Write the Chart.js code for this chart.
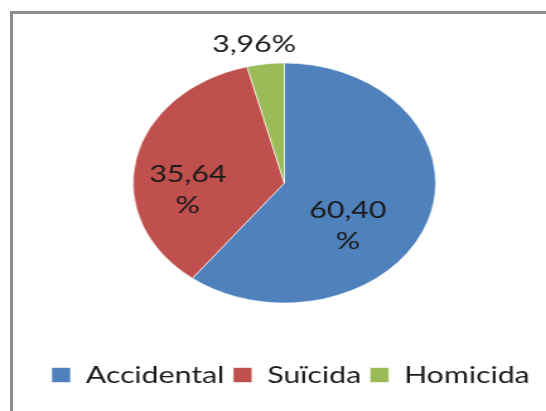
<!DOCTYPE html>
<html>
<head>
<meta charset="utf-8">
<script src="https://cdn.jsdelivr.net/npm/chart.js@4.4.1/dist/chart.umd.min.js"></script>
<style>
  html, body { margin: 0; padding: 0; background: #fff; overflow: hidden; }
  #frame {
    position: absolute; left: 10px; top: 11px; width: 600px; height: 460px;
    border-left: 3px solid #8c8c8c; border-top: 3px solid #8c8c8c;
  }
  #wrap {
    position: absolute; left: 0; top: 0; width: 433px; height: 411px;
    transform: scale(1.261, 1); transform-origin: 0 0;
  }
</style>
</head>
<body>
<div id="frame"></div>
<div id="wrap"><canvas id="myPieChart"></canvas></div>
<script>
var categories = ['Accidental', 'Suïcida', 'Homicida'];
var percentages = [60.40, 35.64, 3.96];
var sliceColors = ['#4F81BD', '#C0504D', '#9BBB59'];

// where each data label sits: fraction of radius, angle shift (deg), % on its own line
var labelPlace = [
    { r: 0.55, shift: 21.5, wrap: true },
    { r: 0.64, shift: -16.5, wrap: true },
    { r: 1.175, shift: -2.7, wrap: false }
];

var fontFamily = 'Lato, "Open Sans", sans-serif';

var pieLabels = {
    id: 'pieLabels',
    afterLayout: function (chart) {
        // nudge legend a little to the right, like the original
        chart.legend.left += 5;
        chart.legend.right += 5;
    },
    afterDatasetsDraw: function (chart) {
        var ctx = chart.ctx;
        var meta = chart.getDatasetMeta(0);
        ctx.save();
        ctx.font = '24px ' + fontFamily;
        ctx.fillStyle = '#1a1a1a';
        ctx.textAlign = 'center';
        ctx.textBaseline = 'middle';
        meta.data.forEach(function (arc, i) {
            var p = arc.getProps(['x', 'y', 'startAngle', 'endAngle', 'outerRadius'], true);
            var place = labelPlace[i];
            var mid = (p.startAngle + p.endAngle) / 2 + place.shift * Math.PI / 180;
            var cx = p.x + Math.cos(mid) * p.outerRadius * place.r;
            var cy = p.y + Math.sin(mid) * p.outerRadius * place.r;
            var txt = percentages[i].toFixed(2).replace('.', ',');
            if (place.wrap) {
                ctx.fillText(txt, cx, cy - 15.5);
                ctx.fillText('%', cx, cy + 15.5);
            } else {
                ctx.fillText(txt + '%', cx, cy);
            }
        });
        ctx.restore();
    }
};

var ctx = document.getElementById('myPieChart').getContext('2d');
var myPieChart = new Chart(ctx, {
    type: 'pie',
    data: {
        labels: categories,
        datasets: [{
            data: percentages,
            backgroundColor: sliceColors,
            borderColor: 'rgba(255,255,255,0.6)',
            borderWidth: 1,
            radius: 120
        }]
    },
    options: {
        responsive: true,
        maintainAspectRatio: false,
        animation: false,
        layout: {
            padding: { top: 10, bottom: 14, left: 18, right: 0 }
        },
        plugins: {
            tooltip: { enabled: false },
            legend: {
                position: 'bottom',
                labels: {
                    boxWidth: 15,
                    boxHeight: 15,
                    padding: 7,
                    color: '#1a1a1a',
                    font: { family: fontFamily, size: 24 }
                }
            }
        }
    },
    plugins: [pieLabels]
});
</script>
</body>
</html>
